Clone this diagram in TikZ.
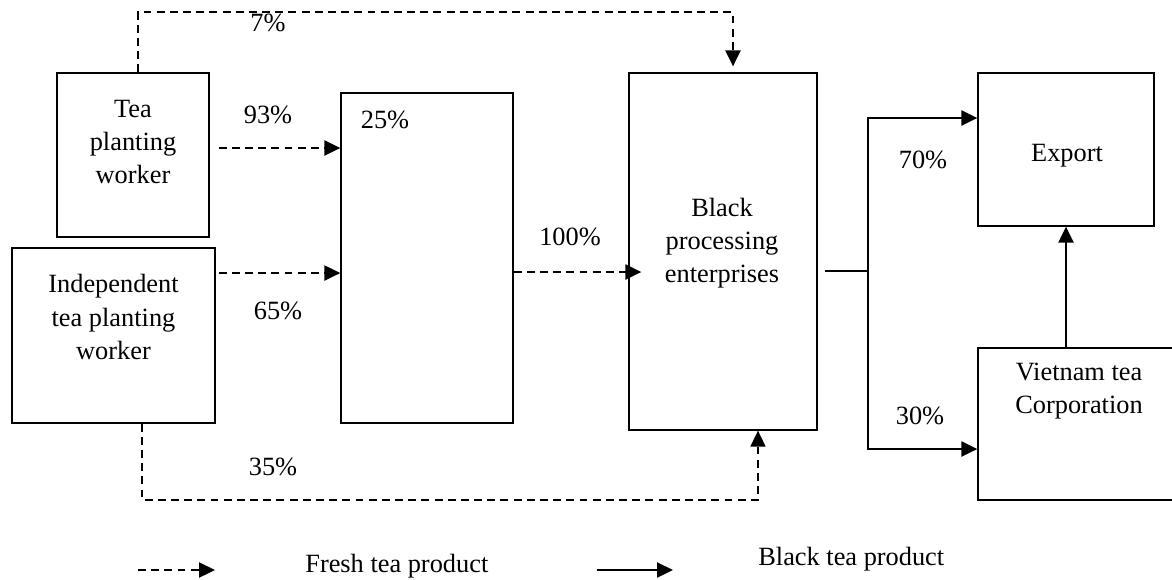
\documentclass[tikz,border=0pt]{standalone}
\usepackage{fontspec}
\setmainfont{Liberation Serif}
\usetikzlibrary{arrows.meta}

\begin{document}
\begin{tikzpicture}[x=0.02cm,y=-0.02cm,
  font=\fontsize{15}{18.8}\selectfont,
  every node/.style={inner sep=0pt},
  box/.style={draw,line width=0.75pt},
  txt/.style={align=center},
  fresh/.style={line width=1.3pt,dash pattern=on 4.5pt off 3pt,-{Triangle[length=0.32cm,width=0.3cm]}},
  blacktea/.style={line width=1.3pt,-{Triangle[length=0.32cm,width=0.3cm]}}]
\useasboundingbox (0,0) rectangle (1172,579);

\node[box,minimum width=3.04cm,minimum height=3.28cm] (tpw) at (133,155) {};
\node[txt] (tpwtxt) at (133,142) {Tea\\planting\\worker};
\node[box,minimum width=4.06cm,minimum height=3.5cm] (itpw) at (113.5,335.5) {};
\node[txt] (itpwtxt) at (113.5,317) {Independent\\tea planting\\worker};
\node[box,minimum width=3.44cm,minimum height=6.6cm] (coll) at (427,258) {};
\node[box,minimum width=3.76cm,minimum height=7.14cm] (bpe) at (723,251.5) {};
\node[txt] (bpetxt) at (722,243) {Black\\processing\\enterprises};
\node[box,minimum width=3.52cm,minimum height=3.06cm] (exp) at (1066,149.5) {};
\node[txt] (exptxt) at (1067,156) {Export};
\node[box,minimum width=4.04cm,minimum height=3.04cm] (vtc) at (1079,424) {};
\node[txt] (vtctxt) at (1079,391) {Vietnam tea\\Corporation};

\node (p7) at (268,23) {7\%};
\node (p93) at (268,115) {93\%};
\node (p25) at (385,120) {25\%};
\node (p65) at (278,311) {65\%};
\node (p100) at (570,237) {100\%};
\node (p35) at (273,467) {35\%};
\node (p70) at (923,160) {70\%};
\node (p30) at (920,416) {30\%};

\coordinate (top) at (0,12);
\coordinate (bot) at (0,500);
\draw[fresh] ([xshift=0.1cm]tpw.north) -- ([xshift=0.1cm]tpw.north |- top) -| ([xshift=0.2cm,yshift=0.12cm]bpe.north);
\draw[fresh] ([xshift=0.18cm,yshift=0.14cm]tpw.east) -- ([yshift=0.14cm]tpw.east -| coll.west);
\draw[fresh] ([xshift=0.06cm,yshift=1.25cm]itpw.east) -- ([yshift=1.25cm]itpw.east -| coll.west);
\draw[fresh] ([yshift=-0.28cm]coll.east) -- ([xshift=0.26cm,yshift=-0.28cm]coll.east -| bpe.west);
\draw[fresh,line width=1pt] ([xshift=0.57cm]itpw.south) -- ([xshift=0.57cm]itpw.south |- bot) -| ([xshift=0.7cm]bpe.south);

\coordinate (split) at (868,271);
\coordinate (y70) at (0,118);
\coordinate (y30) at (0,449);
\draw[line width=0.6pt] ([xshift=0.14cm]bpe.east |- split) -- (split);
\draw[blacktea] (split) |- (exp.west |- y70);
\draw[blacktea] (split) |- (vtc.west |- y30);
\draw[blacktea] (exp.south |- vtc.north) -- (exp.south);

\coordinate (lf0) at (138,570);
\coordinate (lf1) at (215,570);
\coordinate (lb0) at (597,570);
\coordinate (lb1) at (673,570);
\draw[fresh] (lf0) -- (lf1);
\draw[blacktea] (lb0) -- (lb1);
\node[anchor=base west] (lfresh) at (305,572) {Fresh tea product};
\node[anchor=base west] (lblack) at (758,565) {Black tea product};
\end{tikzpicture}
\end{document}
